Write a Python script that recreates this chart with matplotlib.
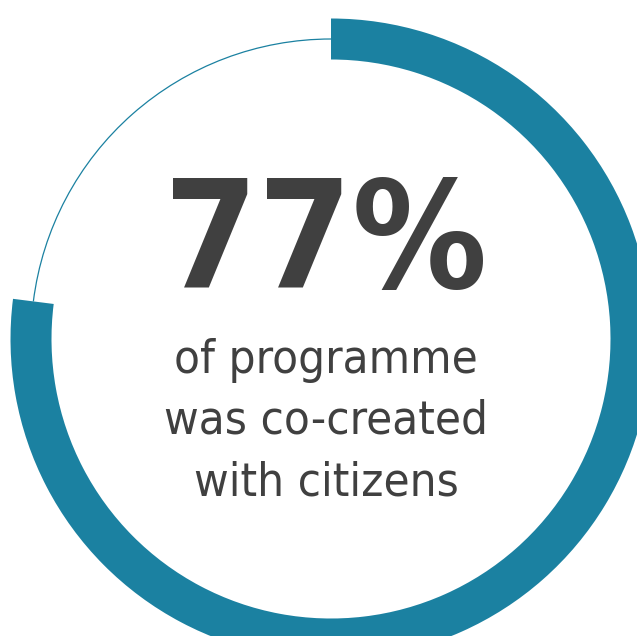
import matplotlib
matplotlib.use("Agg")
import matplotlib.pyplot as plt
from matplotlib.patches import Wedge, Arc

# share of programme co-created with citizens
share = 77
headline = "77%"
caption = ["of programme", "was co-created", "with citizens"]

W, H = 637, 636
teal = "#1b81a1"
grey = "#404040"

fig = plt.figure(figsize=(W / 100, H / 100), dpi=100)
ax = fig.add_axes([0, 0, 1, 1])
ax.set_xlim(0, W)
ax.set_ylim(0, H)
ax.set_aspect("equal")
ax.axis("off")

# ring geometry in pixels (y measured from the top)
cx, cy, R, thick = 331, H - 339, 300, 41
sweep = 360 * share / 100.0

# filled part runs clockwise from 12 o'clock
ax.add_patch(Wedge((cx, cy), R + thick / 2, 90 - sweep, 90, width=thick,
                   facecolor=teal, edgecolor="none"))
# the rest as a thin line
ax.add_patch(Arc((cx, cy), 2 * R, 2 * R, theta1=90, theta2=90 + 360 - sweep,
                 color=teal, lw=0.9))

ax.text(326, H - 288, headline, ha="center", va="baseline", color=grey,
        fontsize=108, fontweight="bold", family="DejaVu Sans",
        fontstretch="condensed")

baselines = [373, 434, 496]
for line, yb in zip(caption, baselines):
    ax.text(326, H - yb, line, ha="center", va="baseline", color=grey,
            fontsize=34, family="DejaVu Sans", fontstretch="condensed")

fig.savefig("out.png", dpi=100)
